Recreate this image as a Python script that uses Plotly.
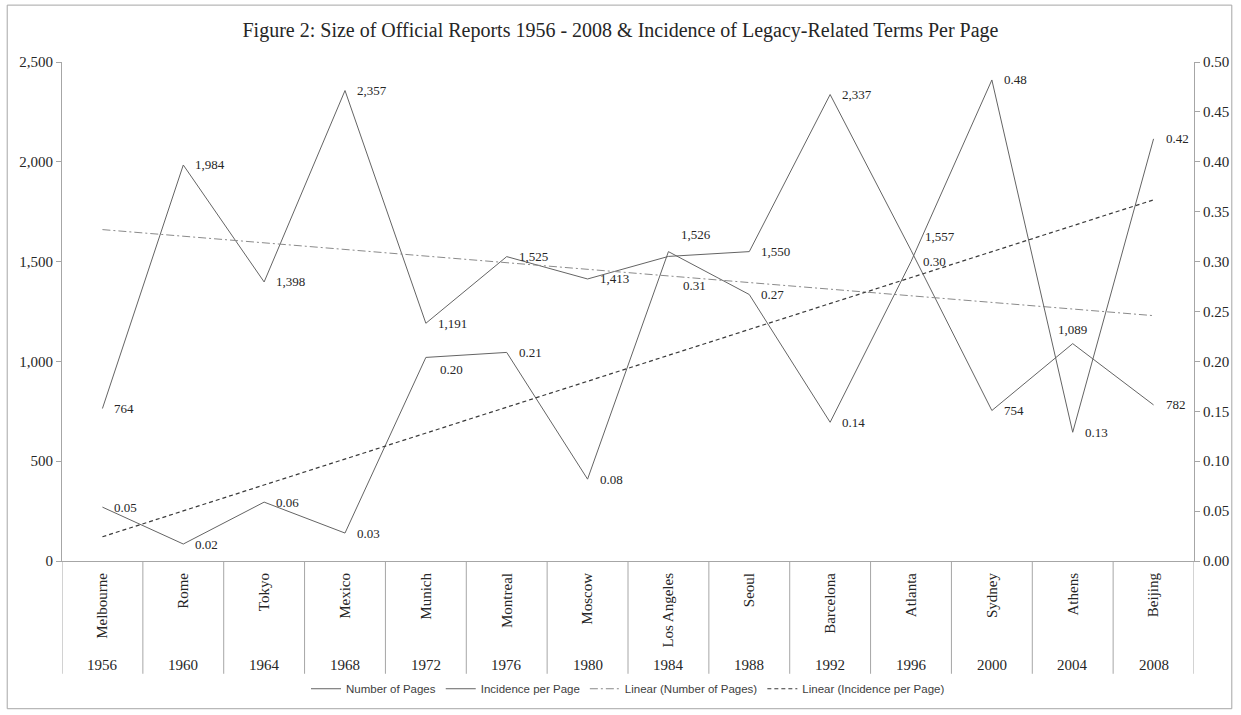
import numpy as np
import plotly.graph_objects as go

# ---- data ----
cities = ["Melbourne", "Rome", "Tokyo", "Mexico", "Munich", "Montreal", "Moscow",
          "Los Angeles", "Seoul", "Barcelona", "Atlanta", "Sydney", "Athens", "Beijing"]
years = ["1956", "1960", "1964", "1968", "1972", "1976", "1980",
         "1984", "1988", "1992", "1996", "2000", "2004", "2008"]
pages = [764, 1984, 1398, 2357, 1191, 1525, 1413, 1526, 1550, 2337, 1557, 754, 1089, 782]
incidence = [0.054, 0.017, 0.059, 0.028, 0.204, 0.209, 0.082, 0.31, 0.267, 0.139,
             0.30, 0.482, 0.129, 0.423]

title_text = "Figure 2: Size of Official Reports 1956 - 2008 & Incidence of Legacy-Related Terms Per Page"

# label placement tweaks (xshift, yshift, xanchor)
pages_label_pos = {"Los Angeles": (11, 22, "left"), "Atlanta": (12, 14, "left"),
                   "Athens": (0, 14, "center")}
inc_label_pos = {"Munich": (12, -12, "left"), "Los Angeles": (13, -34, "left")}

# trend lines (least squares on category index)
idx = np.arange(len(cities))
pp = np.polyfit(idx, pages, 1)
pi = np.polyfit(idx, incidence, 1)
pages_trend = np.polyval(pp, idx)
inc_trend = np.polyval(pi, idx)

LINE = "#646464"
AXIS = "#a6a6a6"
TXT = "#262626"
SERIF = "Liberation Serif"

fig = go.Figure()
fig.add_trace(go.Scatter(x=cities, y=pages, mode="lines", name="Number of Pages",
                         line=dict(color=LINE, width=1)))
fig.add_trace(go.Scatter(x=cities, y=incidence, mode="lines", name="Incidence per Page",
                         yaxis="y2", line=dict(color=LINE, width=1)))
fig.add_trace(go.Scatter(x=cities, y=pages_trend, mode="lines", name="Linear (Number of Pages)",
                         line=dict(color="#8a8a8a", width=1, dash="8px,3px,2px,3px")))
fig.add_trace(go.Scatter(x=cities, y=inc_trend, mode="lines", name="Linear (Incidence per Page)",
                         yaxis="y2", line=dict(color="#3a3a3a", width=1.2, dash="4px,3px")))

annotations = []
for c, v in zip(cities, pages):
    xs, ys, xa = pages_label_pos.get(c, (10, 0, "left"))
    annotations.append(dict(x=c, y=v, xref="x", yref="y", text=f"{v:,}", showarrow=False,
                            xanchor=xa, yanchor="middle", xshift=xs, yshift=ys,
                            font=dict(family=SERIF, size=13, color=TXT)))
for c, v in zip(cities, incidence):
    xs, ys, xa = inc_label_pos.get(c, (10, 0, "left"))
    annotations.append(dict(x=c, y=v, xref="x", yref="y2", text=f"{v:.2f}", showarrow=False,
                            xanchor=xa, yanchor="middle", xshift=xs, yshift=ys,
                            font=dict(family=SERIF, size=13, color=TXT)))
# year row under the city names
for c, yr in zip(cities, years):
    annotations.append(dict(x=c, y=-0.208, xref="x", yref="paper", text=yr, showarrow=False,
                            xanchor="center", yanchor="middle",
                            font=dict(family=SERIF, size=15, color=TXT)))

shapes = []
# category dividers
for i in range(len(cities) + 1):
    shapes.append(dict(type="line", xref="x", yref="paper", x0=i - 0.5, x1=i - 0.5,
                       y0=0, y1=-0.226, line=dict(color=AXIS, width=1)))
# chart border
shapes.append(dict(type="rect", xref="paper", yref="paper",
                   x0=-0.0484, x1=1.0334, y0=-0.296, y1=1.114,
                   line=dict(color=AXIS, width=1), layer="below"))

fig.update_layout(
    width=1241, height=715,
    margin=dict(l=62, r=42, t=62, b=153),
    paper_bgcolor="white", plot_bgcolor="white",
    font=dict(family=SERIF, size=15, color=TXT),
    title=dict(text=title_text, x=0.5, xref="container", xanchor="center",
               y=0.958, yref="container", yanchor="middle",
               font=dict(family=SERIF, size=20, color=TXT)),
    xaxis=dict(type="category", range=[-0.5, len(cities) - 0.5], tickangle=-90,
               showline=True, linecolor=AXIS, linewidth=1, showgrid=False, ticks="",
               tickfont=dict(family=SERIF, size=15, color=TXT), ticklabelstandoff=5),
    yaxis=dict(range=[0, 2500], dtick=500, tickformat=",", showline=True, linecolor=AXIS,
               linewidth=1, ticks="outside", ticklen=5, tickcolor=AXIS, showgrid=False,
               zeroline=False, tickfont=dict(family=SERIF, size=15, color=TXT)),
    yaxis2=dict(range=[0, 0.5], dtick=0.05, tickformat=".2f", overlaying="y", side="right",
                showline=True, linecolor=AXIS, linewidth=1, ticks="outside", ticklen=5,
                tickcolor=AXIS, showgrid=False, zeroline=False,
                tickfont=dict(family=SERIF, size=15, color=TXT)),
    legend=dict(orientation="h", x=0.5, xanchor="center", y=-0.256, yanchor="middle",
                font=dict(family="Liberation Sans", size=11.5, color="#404040"),
                bgcolor="rgba(0,0,0,0)", itemwidth=30),
    showlegend=True,
    annotations=annotations,
    shapes=shapes,
)

fig.write_html("out.html", config={"displayModeBar": False},
               post_script="document.body.style.margin='0';")
